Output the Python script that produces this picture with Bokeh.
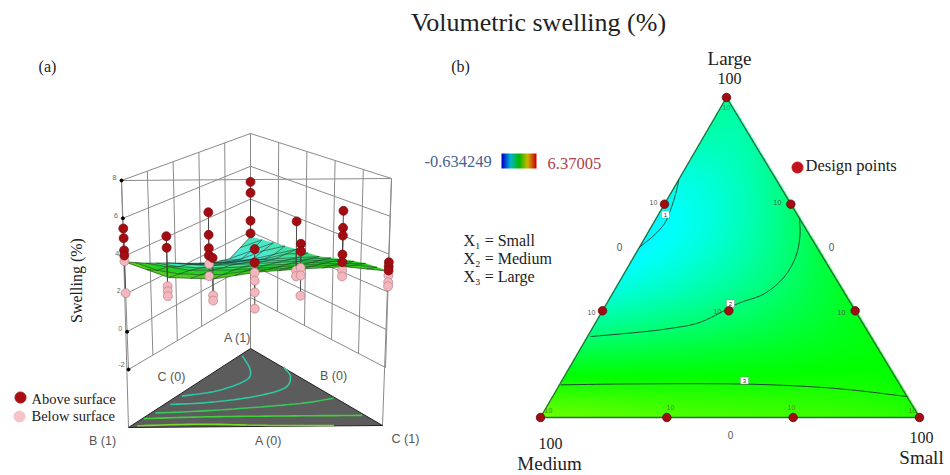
import numpy as np
from bokeh.plotting import figure
from bokeh.embed import file_html
from bokeh.resources import INLINE
from bokeh.core.properties import value

W, H = 950, 475
# ---------- data (Large, Small fractions; Medium is the rest) ----------
design_large = [1, 2/3, 2/3, 1/3, 1/3, 1/3, 0, 0, 0, 0]
design_small = [0, 0, 1/3, 0, 1/3, 2/3, 0, 1/3, 2/3, 1]
design_label = ["10"] * 10

response_z = [[3.6, 3.5, 3.42, 3.38, 3.33, 3.28, 3.15],
              [2.6, 2.65, 2.65, 2.7, 2.75, 2.8],
              [1.6, 1.9, 2.1, 2.5, 2.8],
              [1.15, 1.3, 1.75, 2.4],
              [1.1, 1.5, 2.0],
              [1.6, 1.85],
              [1.75]]
surface_z = [[3.7, 2.85, 2.75, 3.1, 3.25, 3.35, 3.1],
             [3.1, 2.7, 2.7, 2.85, 3.0, 3.0],
             [2.57, 2.4, 2.5, 2.6, 2.7],
             [1.97, 2.0, 2.2, 2.3],
             [1.37, 1.6, 2.15],
             [1.02, 1.95],
             [1.7]]

column_large = [0, 1/3, 2/3, 0, 1, 1/3, 2/3, 0, 1/3, 0]
column_small = [0, 0, 0, 1/3, 0, 1/3, 1/3, 2/3, 2/3, 1]
column_above = [[5.46, 4.95, 4.30, 4.03], [4.05, 3.41], [4.34, 3.03, 2.25, 1.83], [3.87],
                [5.05, 4.38, 2.68, 1.91], [3.3, 2.56], [3.77], [4.58, 4.19],
                [5.38, 4.44, 4.01, 2.96, 2.54], [3.57, 3.34, 3.13]]
column_below = [[3.73, 2.04], [1.28, 1.0, 0.73], [1.33, 0.63], [1.88, 1.61],
                [], [2.0, 1.55, 0.9, 0.0], [0.92, 0.59], [3.31, 2.9, 1.83],
                [2.08, 1.75], [2.87, 2.51, 2.30]]
z_ticks = [-2, 0, 2, 4, 6, 8]
wall_fractions = [0.2, 0.4, 0.6, 0.8]

contours_b = [
    ([.743, .709, .6625, .61, .569, .532], [0, .011, .022, .030, .02, 0]),
    ([.621, .563, .501, .438, .386, .355, .298, .277, .265, .253],
     [.379, .408, .427, .427, .40, .345, .276, .198, .116, .008]),
    ([.102, .105, .105, .098, .0865, .0656], [.003, .195, .459, .638, .775, .935]),
]
contour_tags = ["1", "2", "3"]
contours_floor = [
    ([.91, .718, .59, .4615, .397], [.011, .135, .177, .128, .02], "#2fc4a8"),
    ([.76, .632, .483, .376, .312, .291], [.246, .334, .379, .30, .16, .025], "#2fc9a0"),
    ([.355, .291, .227, .196, .183], [.637, .537, .305, .137, .018], "#35c85a"),
    ([.132, .132, .128, .112], [.857, .483, .222, .006], "#3ed23a"),
    ([.005, .013, .035, .022], [.807, .54, .267, .024], "#7bd82a"),
]

# ---------- helpers ----------
def X(x): return np.asarray(x, float)
def Y(y): return H - np.asarray(y, float)

def fit(rows, deg):
    pts, vals = [], []
    for r, row in enumerate(rows):
        for k, v in enumerate(row):
            pts.append((r/6, k/6)); vals.append(v)
    pts = np.array(pts)
    def basis(L, S):
        return np.stack([L**i * S**j for i in range(deg+1) for j in range(deg+1-i)], -1)
    c = np.linalg.lstsq(basis(pts[:, 0], pts[:, 1]), np.array(vals), rcond=None)[0]
    return lambda L, S: basis(np.asarray(L, float), np.asarray(S, float)) @ c

response = fit(response_z, 4)

def surface_at(L, S):
    r, s = L*6, S*6
    i, j = int(np.floor(r+1e-9)), int(np.floor(s+1e-9))
    fr, fs = r-i, s-j
    if fr < 1e-6 and fs < 1e-6:
        return surface_z[i][j]
    if fr+fs <= 1+1e-9:
        v = surface_z[i][j]*(1-fr-fs)
        if fr > 1e-6: v += surface_z[i+1][j]*fr
        if fs > 1e-6: v += surface_z[i][j+1]*fs
        return v
    return surface_z[i+1][j+1]*(fr+fs-1) + surface_z[i+1][j]*(1-fs) + surface_z[i][j+1]*(1-fr)
surface = np.vectorize(surface_at)

STOPS = [-0.634249, 1.118, 2.868, 4.619, 6.37005]
CR = [0, 0, 0, 255, 255]; CG = [0, 255, 255, 255, 0]; CB = [255, 255, 0, 0, 0]
def cmap(z):
    return np.interp(z, STOPS, CR), np.interp(z, STOPS, CG), np.interp(z, STOPS, CB)

def spline(xs, ys, n=10):
    P = np.column_stack([xs, ys]).astype(float)
    P = np.vstack([2*P[0]-P[1], P, 2*P[-1]-P[-2]])
    out = []
    for i in range(1, len(P)-2):
        for t in np.linspace(0, 1, n, endpoint=False):
            out.append(0.5*((2*P[i]) + (-P[i-1]+P[i+1])*t + (2*P[i-1]-5*P[i]+4*P[i+1]-P[i+2])*t*t
                            + (-P[i-1]+3*P[i]-3*P[i+1]+P[i+2])*t**3))
    out.append(P[-2])
    return np.array(out)

# panel b ternary
TX = dict(L=726, M=540, S=919); TY_top, TY_bot = 97, 417
def tern(L, S):
    L, S = np.asarray(L, float), np.asarray(S, float)
    return L*TX['L'] + S*TX['S'] + (1-L-S)*TX['M'], L*TY_top + (1-L)*TY_bot

# panel a projection
def proj(L, S, z):
    L, S, z = np.asarray(L, float), np.asarray(S, float), np.asarray(z, float)
    M = 1-L-S; h = z+2
    return (L*250 + M*(128-.7*h) + S*(385+.6*h),
            L*(297-16.4*h) + M*(369-18.9*h) + S*(367-18.9*h))
def floor(L, S):
    L, S = np.asarray(L, float), np.asarray(S, float)
    M = 1-L-S
    return L*250 + M*128 + S*382, L*348 + M*427 + S*425

p = figure(width=W, height=H, x_range=(0, W), y_range=(0, H), output_backend="svg",
           toolbar_location=None, min_border=0, outline_line_color=None,
           background_fill_color="white", border_fill_color="white")
p.axis.visible = False
p.grid.visible = False

def txt(x, y, s, size=14, color="#222222", font="Liberation Serif", align="center", angle=0):
    p.text([float(X(x))], [float(Y(y))], text=[s], text_font=value(font), text_font_size=f"{size}px",
           text_color=color, text_align=align, text_baseline="middle", angle=angle)

# ---------- panel a: box ----------
GRID = "#8a8a8a"
for z in z_ticks:
    xa, ya = proj([0, 1, 0], [0, 0, 1], [z, z, z])
    p.line(X(xa), Y(ya), line_color=GRID, line_width=1)
for f in wall_fractions:
    for (L, S) in [(f, 0), (f, 1-f)]:
        xa, ya = proj([L, L], [S, S], [-2, 8])
        p.line(X(xa), Y(ya), line_color=GRID, line_width=1)
for (L, S) in [(0, 0), (1, 0), (0, 1)]:
    xa, ya = proj([L, L], [S, S], [-2, 8])
    xf, yf = floor(L, S)
    p.line(X(list(xa)+[xf]), Y(list(ya)+[yf]), line_color=GRID, line_width=1)
xa, ya = proj([0, 0], [0, 1], [8, 8])
p.line(X(xa), Y(ya), line_color=GRID, line_width=1)
xa, ya = proj([0]*6, [0]*6, z_ticks)
p.scatter(X(xa), Y(ya), size=3, color="black")
for z, xx, yy in zip(z_ticks, xa, ya):
    txt(xx-7, yy-3 if z != -2 else yy-5, str(z), size=7, color="#666666", font="Liberation Sans")

# floor
fx, fy = floor([1, 0, 0], [0, 0, 1])
p.patch(X(fx), Y(fy), fill_color="#5c5c5c", line_color="#222222", line_width=1)
for ls, ss, col in contours_floor:
    P = spline(ls, ss)
    xa, ya = floor(P[:, 0], P[:, 1])
    p.line(X(xa), Y(ya), line_color=col, line_width=1.6)

# surface mesh, back to front
N = 12
polys_x, polys_y, cols = [], [], []
tris = []
for i in range(N, 0, -1):
    for k in range(N-i+1):
        tris.append(((i, k), (i-1, k), (i-1, k+1)))
        if k < N-i:
            tris.append(((i, k), (i-1, k+1), (i, k+1)))
for t in tris:
    L = np.array([a/N for a, b in t]); S = np.array([b/N for a, b in t])
    xa, ya = proj(L, S, surface(L, S))
    polys_x.append(X(xa).tolist()); polys_y.append(Y(ya).tolist())
    r, g, b = cmap(response(L.mean(), S.mean()))
    k = b/255
    cols.append("#%02x%02x%02x" % (int(min(r*.7+30+70*k, 255)), int(g*(.8+.15*k)), int(min(b*1.0+25, 255))))
p.patches(polys_x, polys_y, fill_color=cols, line_color=cols, line_width=0.3)
for i in range(0, N):
    L = np.full(N-i+1, i/N); S = np.arange(N-i+1)/N
    xa, ya = proj(L, S, surface(L, S))
    p.line(X(xa), Y(ya), line_color="#14401e", line_width=0.6)
for k in range(0, N):
    S = np.full(N-k+1, k/N); L = np.arange(N-k+1)/N
    xa, ya = proj(L, S, surface(L, S))
    p.line(X(xa), Y(ya), line_color="#14401e", line_width=0.6)

# points with stems
for L, S, up, lo in zip(column_large, column_small, column_above, column_below):
    zs = float(surface_at(L, S))
    for z in up+lo:
        xa, ya = proj([L, L], [S, S], [zs, z])
        p.line(X(xa), Y(ya), line_color="#4a4a4a", line_width=1)
for L, S, lo in zip(column_large, column_small, column_below):
    if lo:
        xa, ya = proj([L]*len(lo), [S]*len(lo), lo)
        p.scatter(X(xa), Y(ya), size=9, fill_color="#f3b7bd", line_color="#b98088", line_width=0.7)
for L, S, up in zip(column_large, column_small, column_above):
    xa, ya = proj([L]*len(up), [S]*len(up), up)
    p.scatter(X(xa), Y(ya), size=9, fill_color="#a30d12", line_color="#7a0a0e", line_width=0.7)

for x, y, s in [(237, 337, "A (1)"), (171, 376, "C (0)"), (333, 375, "B (0)"),
                (102, 440, "B (1)"), (268, 440, "A (0)"), (405, 438, "C (1)")]:
    txt(x, y, s, size=12.5, color="#555555", font="Liberation Sans")
txt(76, 280, "Swelling (%)", size=16, angle=np.pi/2)
p.scatter([float(X(20))], [float(Y(397))], size=11, color="#a80f12")
p.scatter([float(X(19))], [float(Y(416))], size=11, color="#f5c3c8")
txt(31, 398, "Above surface", size=14.5, align="left")
txt(31, 415, "Below surface", size=14.5, align="left")
txt(47, 66, "(a)", size=16)
txt(460, 66, "(b)", size=16)

# ---------- panel b ----------
xs = np.arange(TX['M'], TX['S']+1)
ys = np.arange(TY_top, TY_bot+1)
gx, gy = np.meshgrid(xs+.0, ys+.0)
gL = (TY_bot-gy)/(TY_bot-TY_top)
gS = (gx-TX['M']-gL*(TX['L']-TX['M']))/(TX['S']-TX['M'])
r, g, b = cmap(response(gL, gS))
inside = (gS >= -0.002) & (gL+gS <= 1.002)
rgba = np.zeros(gx.shape+(4,), np.uint8)
rgba[..., 0], rgba[..., 1], rgba[..., 2], rgba[..., 3] = r, g, b, inside*255
rgba = rgba[::-1]
p.image_rgba(image=[rgba.view(np.uint32).reshape(gx.shape)], x=[float(X(TX['M']))], y=[float(Y(TY_bot))],
             dw=[float(len(xs))], dh=[float(len(ys))])
tx, ty = tern([1, 0, 0], [0, 0, 1])
p.patch(X(tx), Y(ty), fill_color=None, line_color="#2d6b3a", line_width=1.3)

for (ls, ss), tag, (tagx, tagy) in zip(contours_b, contour_tags, [(665, 214), (730, 303), (744, 380)]):
    P = spline(ls, ss)
    xa, ya = tern(P[:, 0], P[:, 1])
    p.line(X(xa), Y(ya), line_color="#1f4a34", line_width=1)
    p.rect([float(X(tagx))], [float(Y(tagy))], width=8, height=7, fill_color="white", line_color="#888888", line_width=0.5)
    txt(tagx, tagy, tag, size=6, color="#333333", font="Liberation Sans")

dx, dy = tern(design_large, design_small)
p.scatter(X(dx), Y(dy), size=8.5, fill_color="#a30d12", line_color="#5c0a0c", line_width=0.8)
for x, y, s, c in [(726, 107, "10", "#3d8a5a"), (653, 202, "10", "#555555"), (777, 202, "10", "#555555"),
                   (591, 312, "10", "#555555"), (717, 311, "10", "#555555"), (841, 312, "10", "#555555"),
                   (548, 410, "10", "#4f8a20"), (670, 407, "10", "#4f8a20"), (791, 407, "10", "#4f8a20"),
                   (912, 410, "10", "#4f8a20")]:
    txt(x, y, s, size=7, color=c, font="Liberation Sans")
for x, y, s in [(619, 246, "0"), (831, 246, "0"), (730, 434, "0")]:
    txt(x, y, s, size=10, color="#555555", font="Liberation Sans")

# colour bar
bx = np.linspace(STOPS[0], STOPS[-1], 35)
br, bg, bb = cmap(bx)
bar = np.zeros((1, 35, 4), np.uint8)
bar[0, :, 0], bar[0, :, 1], bar[0, :, 2], bar[0, :, 3] = br*.8, bg*.72, bb*.8, 255
p.image_rgba(image=[bar.view(np.uint32).reshape(1, 35)], x=[float(X(501))], y=[float(Y(168))], dw=[35.0], dh=[15.0])
txt(424, 161, "-0.634249", size=16.5, color="#4a5f96", align="left")
txt(547, 163, "6.37005", size=16.5, color="#b0404a", align="left")

txt(463, 240, "X\u2081 = Small", size=16, align="left")
txt(463, 258, "X\u2082 = Medium", size=16, align="left")
txt(463, 276, "X\u2083 = Large", size=16, align="left")
p.scatter([float(X(797))], [float(Y(167))], size=11, color="#c4121a")
txt(805, 165, "Design points", size=16.5, align="left")
txt(729, 58, "Large", size=19)
txt(729, 78, "100", size=16)
txt(550, 443, "100", size=16)
txt(549, 463, "Medium", size=19)
txt(921, 437, "100", size=16)
txt(921, 457, "Small", size=19)
txt(538, 22, "Volumetric swelling (%)", size=26)

open("out.html", "w").write(file_html(p, INLINE))
